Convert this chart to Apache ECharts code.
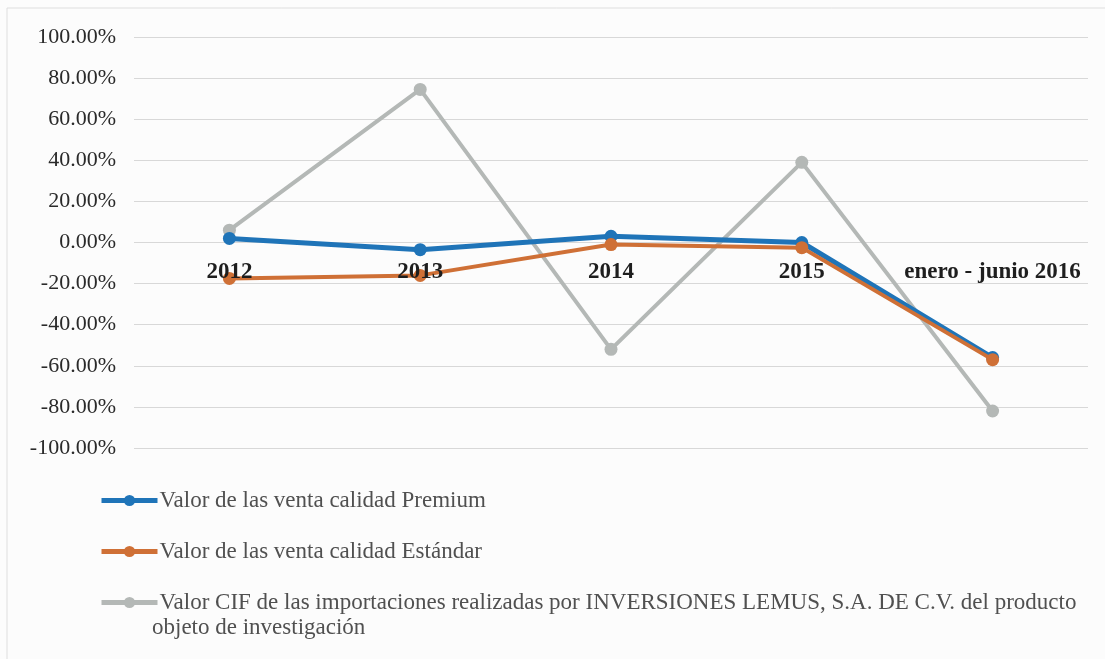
<!DOCTYPE html>
<html>
<head>
<meta charset="utf-8">
<script src="https://cdn.jsdelivr.net/npm/echarts@6/dist/echarts.min.js"></script>
<style>
  html, body { margin: 0; padding: 0; background: #fcfcfc; }
  #main { width: 1105px; height: 659px; }
</style>
</head>
<body>
<div id="main"></div>
<script>
// categorias y valores (% de variacion)
const categorias = ['2012', '2013', '2014', '2015', 'enero - junio 2016'];
const premium = [2, -3.5, 3, 0, -56];
const estandar = [-17.5, -16, -1, -2.5, -57];
const cif = [6, 74.5, -52, 39, -82];

const nombres = [
  'Valor de las venta calidad Premium',
  'Valor de las venta calidad Estándar',
  'Valor CIF de las importaciones realizadas por INVERSIONES LEMUS, S.A. DE C.V. del producto'
];

let chartDom = document.getElementById('main');
let myChart = echarts.init(chartDom);
let option;

const serif = '"Liberation Serif", "DejaVu Serif", serif';

option = {
  backgroundColor: '#fcfcfc',
  animation: false,
  grid: { left: 134, right: 17, top: 37, bottom: 211 },
  legend: {
    orient: 'vertical',
    left: 94,
    top: 484,
    itemWidth: 56,
    itemHeight: 14,
    itemGap: 28,
    lineStyle: { width: 5 },
    textStyle: { fontFamily: serif, fontSize: 23, color: '#505050', padding: [0, 0, 0, -3] },
    data: nombres
  },
  graphic: [
    {
      type: 'rect',
      shape: { x: 7, y: 8, width: 1200, height: 700 },
      style: { fill: 'none', stroke: '#dedede', lineWidth: 1 },
      silent: true
    },
    {
      // segunda linea de la tercera leyenda
      type: 'text',
      left: 152,
      top: 616,
      style: { text: 'objeto de investigación', font: '23px ' + serif, fill: '#505050' }
    }
  ],
  xAxis: {
    type: 'category',
    data: categorias,
    boundaryGap: true,
    z: 10,
    // etiquetas sobre la linea del cero
    offset: -205,
    axisLine: { show: false, onZero: false },
    axisTick: { show: false },
    axisLabel: { interval: 0, fontFamily: serif, fontSize: 23, fontWeight: 'bold', color: '#1e1e1e', margin: 18 }
  },
  yAxis: {
    type: 'value',
    min: -100,
    max: 100,
    interval: 20,
    axisLine: { show: false },
    axisTick: { show: false },
    splitLine: { lineStyle: { color: '#d8d8d8', width: 1 } },
    axisLabel: {
      fontFamily: serif, fontSize: 22, color: '#2a2a2a', margin: 18,
      formatter: v => v.toFixed(2) + '%'
    }
  },
  series: [
    {
      name: nombres[0], type: 'line', data: premium,
      symbol: 'circle', symbolSize: 13,
      lineStyle: { width: 5, color: '#1f74b8' },
      itemStyle: { color: '#1f74b8' }, z: 3
    },
    {
      name: nombres[1], type: 'line', data: estandar,
      symbol: 'circle', symbolSize: 13,
      lineStyle: { width: 4, color: '#cf7036' },
      itemStyle: { color: '#cf7036' }, z: 4
    },
    {
      name: nombres[2], type: 'line', data: cif,
      symbol: 'circle', symbolSize: 13,
      lineStyle: { width: 4, color: '#b4b8b6' },
      itemStyle: { color: '#b4b8b6' }, z: 2
    }
  ]
};
myChart.setOption(option);
</script>
</body>
</html>
